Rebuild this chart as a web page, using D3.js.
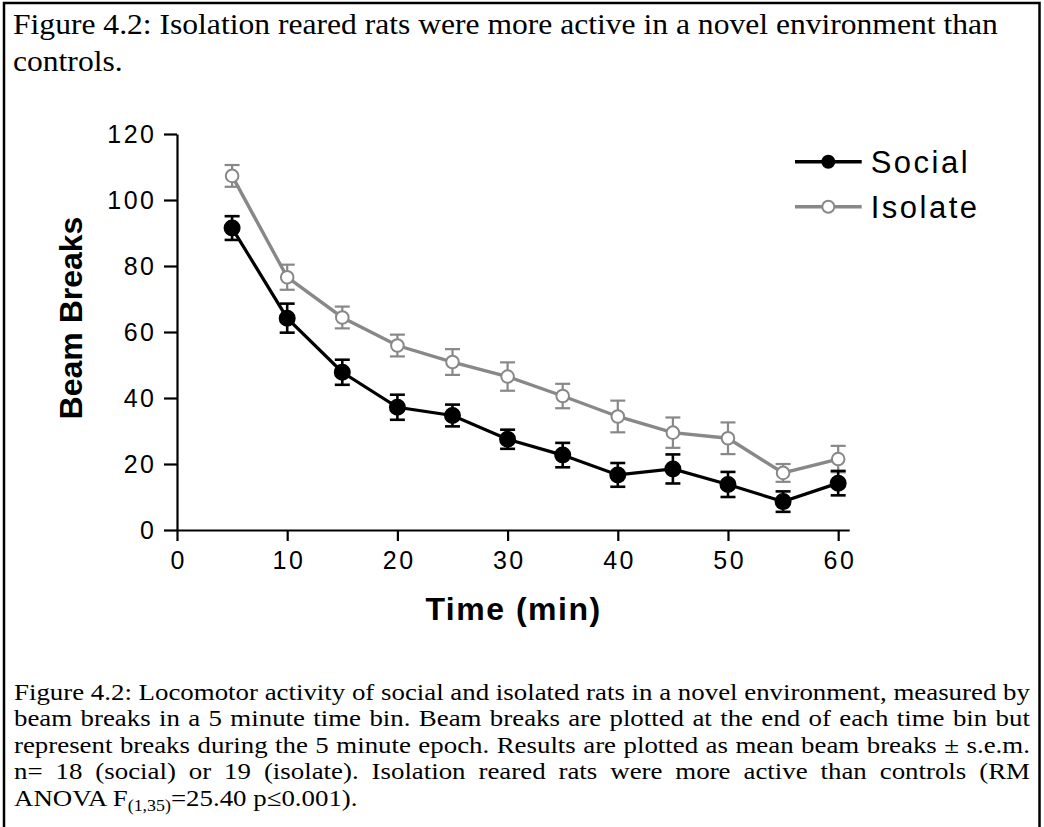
<!DOCTYPE html>
<html>
<head>
<meta charset="utf-8">
<script src="https://cdn.jsdelivr.net/npm/d3@7"></script>
<style>
body { margin: 0; background: #fff; }
svg { display: block; }
.serif { font-family: "Liberation Serif", "Times New Roman", Times, serif; }
.sans { font-family: "Liberation Sans", Arial, Helvetica, sans-serif; }
</style>
</head>
<body>
<div class="chart"></div>
<script>
// data
var times = [5, 10, 15, 20, 25, 30, 35, 40, 45, 50, 55, 60];
var socialMean = [91.5, 64.2, 47.8, 37.2, 34.7, 27.5, 22.7, 16.7, 18.5, 13.8, 8.6, 14.2];
var socialSem = [3.6, 4.4, 3.8, 3.8, 3.3, 2.9, 3.7, 3.6, 4.4, 3.8, 3.1, 3.7];
var isolateMean = [107.3, 76.6, 64.4, 55.9, 50.9, 46.5, 40.6, 34.4, 29.5, 27.8, 17.3, 21.5];
var isolateSem = [3.3, 3.8, 3.3, 3.3, 3.9, 4.3, 3.7, 4.8, 4.6, 4.8, 2.7, 4.0];
var seriesNames = ["Social", "Isolate"];
var xTicks = [0, 10, 20, 30, 40, 50, 60];
var yTicks = [0, 20, 40, 60, 80, 100, 120];

var titleLines = [
    "Figure 4.2: Isolation reared rats were more active in a novel environment than",
    "controls."
];
var captionLines = [
    "Figure 4.2: Locomotor activity of social and isolated rats in a novel environment, measured by",
    "beam breaks in a 5 minute time bin. Beam breaks are plotted at the end of each time bin but",
    "represent breaks during the 5 minute epoch. Results are plotted as mean beam breaks \u00b1 s.e.m.",
    "n= 18 (social) or 19 (isolate). Isolation reared rats were more active than controls (RM"
];

var svg = d3.select(".chart")
    .append("svg")
    .attr("width", 1044)
    .attr("height", 827);

// page frame
svg.append("rect")
    .attr("x", 4)
    .attr("y", 3)
    .attr("width", 1035.5)
    .attr("height", 850)
    .attr("fill", "none")
    .attr("stroke", "#000")
    .attr("stroke-width", 2.5);

// title
var titleGroup = svg.append("g").attr("class", "serif");
var titleTexts = titleGroup.selectAll("text")
    .data(titleLines)
    .enter()
    .append("text")
    .attr("x", 0)
    .attr("y", (d, i) => 34 + i * 37)
    .style("font-size", "30px")
    .attr("fill", "#000")
    .text(d => d);
var titleK = 985 / titleTexts.nodes()[0].getComputedTextLength();
titleGroup.attr("transform", `translate(13, 0) scale(${titleK}, 1)`);

// scales and axes
var xScale = d3.scaleLinear()
    .domain([0, 61])
    .range([177, 849.2]);

var yScale = d3.scaleLinear()
    .domain([0, 120])
    .range([530, 134]);

var bottomAxis = d3.axisBottom(xScale)
    .tickValues(xTicks)
    .tickSize(11)
    .tickSizeOuter(0)
    .tickPadding(10);

var leftAxis = d3.axisLeft(yScale)
    .tickValues(yTicks)
    .tickSize(13)
    .tickSizeOuter(0)
    .tickPadding(10);

var xg = svg.append("g")
    .attr("transform", `translate(0, ${yScale(0)})`)
    .call(bottomAxis);

var yg = svg.append("g")
    .attr("transform", `translate(${xScale(0)}, 0)`)
    .call(leftAxis);

[xg, yg].forEach(function (g) {
    g.attr("font-family", null).attr("font-size", null).attr("class", "sans");
    g.select(".domain").attr("stroke", "#000").attr("stroke-width", 2.2);
    g.selectAll(".tick line").attr("stroke", "#000").attr("stroke-width", 2.2);
    g.selectAll(".tick text")
        .style("font-size", "25px")
        .style("letter-spacing", "2.5px")
        .attr("fill", "#000");
});
xg.selectAll(".tick text").attr("dx", 1.25);
yg.selectAll(".tick text").attr("dx", 2.5);

// axis titles
svg.append("text")
    .attr("class", "sans")
    .attr("x", 513.5)
    .attr("y", 620)
    .attr("text-anchor", "middle")
    .style("font-weight", "bold")
    .style("font-size", "32px")
    .style("letter-spacing", "1.5px")
    .text("Time (min)");

svg.append("text")
    .attr("class", "sans")
    .attr("transform", "translate(82, 318) rotate(-90)")
    .attr("text-anchor", "middle")
    .style("font-weight", "bold")
    .style("font-size", "32px")
    .text("Beam Breaks");

// series
var series = [
    { name: seriesNames[0], mean: socialMean, sem: socialSem, color: "#000", fill: "#000", r: 7.5, lw: 3.2, ew: 2.6 },
    { name: seriesNames[1], mean: isolateMean, sem: isolateSem, color: "#888", fill: "#fff", r: 6.3, lw: 3.4, ew: 2.2 }
];

var line = d3.line()
    .x(d => xScale(d.t))
    .y(d => yScale(d.m));

series.slice().reverse().forEach(function (s) {
    var pts = times.map((t, i) => ({ t: t, m: s.mean[i], e: s.sem[i] }));
    var g = svg.append("g");

    g.append("path")
        .datum(pts)
        .attr("d", line)
        .attr("fill", "none")
        .attr("stroke", s.color)
        .attr("stroke-width", s.lw);

    var bars = g.selectAll(".err")
        .data(pts)
        .enter()
        .append("g")
        .attr("stroke", s.color)
        .attr("stroke-width", s.ew);
    bars.append("line")
        .attr("x1", d => xScale(d.t))
        .attr("x2", d => xScale(d.t))
        .attr("y1", d => yScale(d.m - d.e))
        .attr("y2", d => yScale(d.m + d.e));
    bars.append("line")
        .attr("x1", d => xScale(d.t) - 7.5)
        .attr("x2", d => xScale(d.t) + 7.5)
        .attr("y1", d => yScale(d.m + d.e))
        .attr("y2", d => yScale(d.m + d.e));
    bars.append("line")
        .attr("x1", d => xScale(d.t) - 7.5)
        .attr("x2", d => xScale(d.t) + 7.5)
        .attr("y1", d => yScale(d.m - d.e))
        .attr("y2", d => yScale(d.m - d.e));

    g.selectAll("circle")
        .data(pts)
        .enter()
        .append("circle")
        .attr("cx", d => xScale(d.t))
        .attr("cy", d => yScale(d.m))
        .attr("r", s.r)
        .attr("fill", s.fill)
        .attr("stroke", s.color)
        .attr("stroke-width", 2);
});

// legend
var legend = svg.selectAll(".legend")
    .data(series)
    .enter()
    .append("g")
    .attr("transform", (d, i) => `translate(795, ${161.7 + i * 45})`);
legend.append("line")
    .attr("x1", 0)
    .attr("x2", 66.7)
    .attr("stroke", d => d.color)
    .attr("stroke-width", 3.4);
legend.append("circle")
    .attr("cx", 33.3)
    .attr("r", 6)
    .attr("fill", d => d.fill)
    .attr("stroke", d => d.color)
    .attr("stroke-width", 2);
legend.append("text")
    .attr("class", "sans")
    .attr("x", 75.7)
    .attr("y", 11)
    .style("font-size", "31px")
    .style("letter-spacing", "2.5px")
    .attr("fill", "#000")
    .text(d => d.name);

// caption below the chart
var capGroup = svg.append("g").attr("class", "serif");
var capTexts = capGroup.selectAll(".cap")
    .data(captionLines)
    .enter()
    .append("text")
    .attr("x", 0)
    .attr("y", (d, i) => 700 + i * 26.5)
    .style("font-size", "24px")
    .attr("fill", "#000")
    .text(d => d);

var last = capGroup.append("text")
    .attr("x", 0)
    .attr("y", 700 + 4 * 26.5)
    .style("font-size", "24px")
    .attr("fill", "#000");
last.append("tspan").text("ANOVA F");
last.append("tspan").style("font-size", "16px").attr("dy", 5).text("(1,35)");
last.append("tspan").attr("dy", -5).text("=25.40 p\u22640.001).");

// squeeze horizontally so the longest line fits, then justify the rest
var widths = capTexts.nodes().map(n => n.getComputedTextLength());
var capK = 1016 / d3.max(widths);
capGroup.attr("transform", `translate(14, 0) scale(${capK}, 1)`);

capTexts.each(function (d, i) {
    var target = 1016 / capK;
    var spaces = d.split(" ").length - 1;
    d3.select(this).style("word-spacing", ((target - widths[i]) / spaces) + "px");
});
</script>
</body>
</html>
